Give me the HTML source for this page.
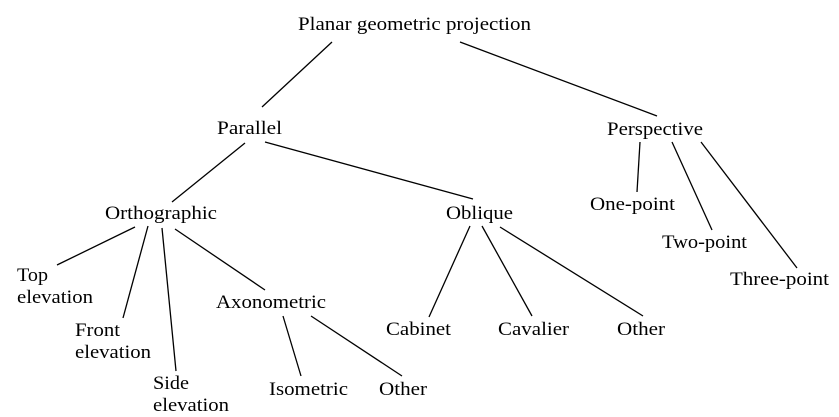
<!DOCTYPE html>
<html><head><meta charset="utf-8"><style>
html,body{margin:0;padding:0;background:#fff;}
svg{display:block;}
text{font-family:"Liberation Serif","Times New Roman",Times,serif;font-size:19px;fill:#000;}
line{stroke:#000;stroke-width:1.3;}
</style></head><body>
<svg width="839" height="417" viewBox="0 0 839 417" xmlns="http://www.w3.org/2000/svg">
<line x1="332" y1="42" x2="262" y2="107"/>
<line x1="460" y1="42" x2="657" y2="116"/>
<line x1="245" y1="143" x2="172" y2="202"/>
<line x1="265" y1="142" x2="473" y2="199"/>
<line x1="640" y1="142" x2="637" y2="192"/>
<line x1="672" y1="142" x2="712" y2="230"/>
<line x1="701" y1="142" x2="797" y2="268"/>
<line x1="470" y1="226" x2="429" y2="317"/>
<line x1="482" y1="226" x2="532" y2="316"/>
<line x1="500" y1="227" x2="643" y2="316"/>
<line x1="135" y1="227" x2="57" y2="265"/>
<line x1="148" y1="226" x2="123" y2="318"/>
<line x1="162" y1="228" x2="176" y2="371"/>
<line x1="175" y1="229" x2="265" y2="290"/>
<line x1="283" y1="316" x2="301" y2="376"/>
<line x1="311" y1="316" x2="402" y2="376"/>
<text x="298" y="30" textLength="233" lengthAdjust="spacingAndGlyphs">Planar geometric projection</text>
<text x="217" y="134" textLength="65" lengthAdjust="spacingAndGlyphs">Parallel</text>
<text x="607" y="135" textLength="96" lengthAdjust="spacingAndGlyphs">Perspective</text>
<text x="105" y="219" textLength="112" lengthAdjust="spacingAndGlyphs">Orthographic</text>
<text x="446" y="219" textLength="67" lengthAdjust="spacingAndGlyphs">Oblique</text>
<text x="590" y="210" textLength="85" lengthAdjust="spacingAndGlyphs">One-point</text>
<text x="662" y="248" textLength="85" lengthAdjust="spacingAndGlyphs">Two-point</text>
<text x="730" y="285" textLength="99" lengthAdjust="spacingAndGlyphs">Three-point</text>
<text x="17" y="281" textLength="31" lengthAdjust="spacingAndGlyphs">Top</text>
<text x="17" y="303" textLength="76" lengthAdjust="spacingAndGlyphs">elevation</text>
<text x="75" y="336" textLength="45" lengthAdjust="spacingAndGlyphs">Front</text>
<text x="75" y="358" textLength="76" lengthAdjust="spacingAndGlyphs">elevation</text>
<text x="153" y="389" textLength="36" lengthAdjust="spacingAndGlyphs">Side</text>
<text x="153" y="411" textLength="76" lengthAdjust="spacingAndGlyphs">elevation</text>
<text x="216" y="308" textLength="110" lengthAdjust="spacingAndGlyphs">Axonometric</text>
<text x="269" y="395" textLength="79" lengthAdjust="spacingAndGlyphs">Isometric</text>
<text x="379" y="395" textLength="48" lengthAdjust="spacingAndGlyphs">Other</text>
<text x="386" y="335" textLength="65" lengthAdjust="spacingAndGlyphs">Cabinet</text>
<text x="498" y="335" textLength="71" lengthAdjust="spacingAndGlyphs">Cavalier</text>
<text x="617" y="335" textLength="48" lengthAdjust="spacingAndGlyphs">Other</text>
</svg>
</body></html>
